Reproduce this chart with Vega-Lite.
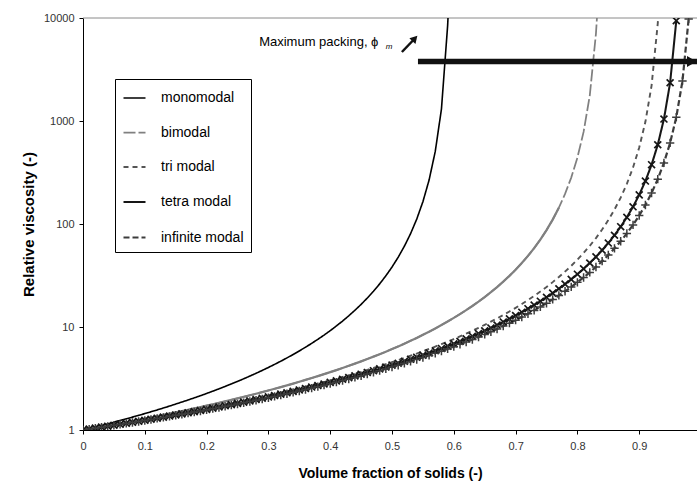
{
"$schema": "https://vega.github.io/schema/vega-lite/v6.json",
"width": 614, "height": 412,
"autosize": {"type": "none"},
"padding": {"left": 83, "top": 18, "right": 0, "bottom": 52},
"background": "white",
"config": {"view": {"stroke": null}, "font": "Liberation Sans"},
"datasets": {
"curves": [
{"phi":0,"monomodal":1,"bimodal":1,"tri modal":1,"tetra modal":1,"infinite modal":1},
{"phi":0.01,"monomodal":1.034,"bimodal":1.024,"tri modal":1.022,"tetra modal":1.021,"infinite modal":1.021},
{"phi":0.02,"monomodal":1.071,"bimodal":1.049,"tri modal":1.044,"tetra modal":1.043,"infinite modal":1.042},
{"phi":0.03,"monomodal":1.109,"bimodal":1.075,"tri modal":1.067,"tetra modal":1.065,"infinite modal":1.064},
{"phi":0.04,"monomodal":1.149,"bimodal":1.103,"tri modal":1.091,"tetra modal":1.088,"infinite modal":1.086},
{"phi":0.05,"monomodal":1.191,"bimodal":1.131,"tri modal":1.116,"tetra modal":1.112,"infinite modal":1.109},
{"phi":0.06,"monomodal":1.236,"bimodal":1.160,"tri modal":1.141,"tetra modal":1.136,"infinite modal":1.133},
{"phi":0.07,"monomodal":1.284,"bimodal":1.190,"tri modal":1.167,"tetra modal":1.162,"infinite modal":1.158},
{"phi":0.08,"monomodal":1.334,"bimodal":1.222,"tri modal":1.195,"tetra modal":1.188,"infinite modal":1.184},
{"phi":0.09,"monomodal":1.387,"bimodal":1.254,"tri modal":1.223,"tetra modal":1.215,"infinite modal":1.21},
{"phi":0.10,"monomodal":1.443,"bimodal":1.289,"tri modal":1.252,"tetra modal":1.243,"infinite modal":1.237},
{"phi":0.11,"monomodal":1.503,"bimodal":1.324,"tri modal":1.283,"tetra modal":1.272,"infinite modal":1.266},
{"phi":0.12,"monomodal":1.567,"bimodal":1.361,"tri modal":1.314,"tetra modal":1.302,"infinite modal":1.295},
{"phi":0.13,"monomodal":1.635,"bimodal":1.400,"tri modal":1.347,"tetra modal":1.334,"infinite modal":1.325},
{"phi":0.14,"monomodal":1.707,"bimodal":1.44,"tri modal":1.381,"tetra modal":1.366,"infinite modal":1.357},
{"phi":0.15,"monomodal":1.785,"bimodal":1.482,"tri modal":1.416,"tetra modal":1.399,"infinite modal":1.389},
{"phi":0.16,"monomodal":1.868,"bimodal":1.526,"tri modal":1.452,"tetra modal":1.434,"infinite modal":1.423},
{"phi":0.17,"monomodal":1.956,"bimodal":1.572,"tri modal":1.490,"tetra modal":1.470,"infinite modal":1.458},
{"phi":0.18,"monomodal":2.051,"bimodal":1.620,"tri modal":1.530,"tetra modal":1.508,"infinite modal":1.494},
{"phi":0.19,"monomodal":2.153,"bimodal":1.670,"tri modal":1.571,"tetra modal":1.547,"infinite modal":1.531},
{"phi":0.20,"monomodal":2.263,"bimodal":1.723,"tri modal":1.614,"tetra modal":1.587,"infinite modal":1.570},
{"phi":0.21,"monomodal":2.382,"bimodal":1.778,"tri modal":1.658,"tetra modal":1.629,"infinite modal":1.611},
{"phi":0.22,"monomodal":2.510,"bimodal":1.836,"tri modal":1.705,"tetra modal":1.673,"infinite modal":1.653},
{"phi":0.23,"monomodal":2.649,"bimodal":1.896,"tri modal":1.753,"tetra modal":1.718,"infinite modal":1.697},
{"phi":0.24,"monomodal":2.800,"bimodal":1.96,"tri modal":1.803,"tetra modal":1.766,"infinite modal":1.742},
{"phi":0.25,"monomodal":2.964,"bimodal":2.027,"tri modal":1.856,"tetra modal":1.815,"infinite modal":1.790},
{"phi":0.26,"monomodal":3.142,"bimodal":2.098,"tri modal":1.911,"tetra modal":1.867,"infinite modal":1.839},
{"phi":0.27,"monomodal":3.338,"bimodal":2.172,"tri modal":1.968,"tetra modal":1.920,"infinite modal":1.891},
{"phi":0.28,"monomodal":3.552,"bimodal":2.25,"tri modal":2.029,"tetra modal":1.976,"infinite modal":1.944},
{"phi":0.29,"monomodal":3.788,"bimodal":2.333,"tri modal":2.091,"tetra modal":2.035,"infinite modal":2.000},
{"phi":0.30,"monomodal":4.047,"bimodal":2.420,"tri modal":2.157,"tetra modal":2.096,"infinite modal":2.059},
{"phi":0.31,"monomodal":4.335,"bimodal":2.512,"tri modal":2.226,"tetra modal":2.160,"infinite modal":2.120},
{"phi":0.32,"monomodal":4.654,"bimodal":2.610,"tri modal":2.299,"tetra modal":2.227,"infinite modal":2.183},
{"phi":0.33,"monomodal":5.010,"bimodal":2.713,"tri modal":2.375,"tetra modal":2.297,"infinite modal":2.25},
{"phi":0.34,"monomodal":5.408,"bimodal":2.822,"tri modal":2.454,"tetra modal":2.371,"infinite modal":2.320},
{"phi":0.35,"monomodal":5.856,"bimodal":2.939,"tri modal":2.538,"tetra modal":2.448,"infinite modal":2.393},
{"phi":0.36,"monomodal":6.362,"bimodal":3.063,"tri modal":2.627,"tetra modal":2.529,"infinite modal":2.469},
{"phi":0.37,"monomodal":6.936,"bimodal":3.194,"tri modal":2.720,"tetra modal":2.614,"infinite modal":2.550},
{"phi":0.38,"monomodal":7.591,"bimodal":3.335,"tri modal":2.818,"tetra modal":2.703,"infinite modal":2.634},
{"phi":0.39,"monomodal":8.344,"bimodal":3.484,"tri modal":2.921,"tetra modal":2.797,"infinite modal":2.723},
{"phi":0.40,"monomodal":9.215,"bimodal":3.645,"tri modal":3.030,"tetra modal":2.896,"infinite modal":2.816},
{"phi":0.41,"monomodal":10.23,"bimodal":3.816,"tri modal":3.146,"tetra modal":3.000,"infinite modal":2.914},
{"phi":0.42,"monomodal":11.42,"bimodal":4,"tri modal":3.268,"tetra modal":3.110,"infinite modal":3.017},
{"phi":0.43,"monomodal":12.84,"bimodal":4.198,"tri modal":3.397,"tetra modal":3.227,"infinite modal":3.125},
{"phi":0.44,"monomodal":14.53,"bimodal":4.41,"tri modal":3.534,"tetra modal":3.350,"infinite modal":3.24},
{"phi":0.45,"monomodal":16.58,"bimodal":4.639,"tri modal":3.680,"tetra modal":3.480,"infinite modal":3.361},
{"phi":0.46,"monomodal":19.10,"bimodal":4.886,"tri modal":3.835,"tetra modal":3.618,"infinite modal":3.489},
{"phi":0.47,"monomodal":22.24,"bimodal":5.154,"tri modal":4,"tetra modal":3.764,"infinite modal":3.625},
{"phi":0.48,"monomodal":26.22,"bimodal":5.444,"tri modal":4.176,"tetra modal":3.919,"infinite modal":3.768},
{"phi":0.49,"monomodal":31.37,"bimodal":5.76,"tri modal":4.364,"tetra modal":4.084,"infinite modal":3.920},
{"phi":0.50,"monomodal":38.21,"bimodal":6.104,"tri modal":4.564,"tetra modal":4.259,"infinite modal":4.082},
{"phi":0.51,"monomodal":47.55,"bimodal":6.479,"tri modal":4.779,"tetra modal":4.447,"infinite modal":4.254},
{"phi":0.52,"monomodal":60.80,"bimodal":6.891,"tri modal":5.009,"tetra modal":4.646,"infinite modal":4.437},
{"phi":0.53,"monomodal":80.46,"bimodal":7.342,"tri modal":5.256,"tetra modal":4.860,"infinite modal":4.632},
{"phi":0.54,"monomodal":111.5,"bimodal":7.84,"tri modal":5.523,"tetra modal":5.089,"infinite modal":4.84},
{"phi":0.55,"monomodal":164.6,"bimodal":8.390,"tri modal":5.809,"tetra modal":5.334,"infinite modal":5.063},
{"phi":0.56,"monomodal":267.1,"bimodal":9,"tri modal":6.119,"tetra modal":5.597,"infinite modal":5.301},
{"phi":0.57,"monomodal":506.7,"bimodal":9.679,"tri modal":6.454,"tetra modal":5.881,"infinite modal":5.556},
{"phi":0.58,"monomodal":1307,"bimodal":10.44,"tri modal":6.818,"tetra modal":6.186,"infinite modal":5.831},
{"phi":0.59,"monomodal":8422,"bimodal":11.29,"tri modal":7.213,"tetra modal":6.516,"infinite modal":6.126},
{"phi":0.5906,"monomodal":10000},
{"phi":0.60,"bimodal":12.25,"tri modal":7.644,"tetra modal":6.873,"infinite modal":6.444},
{"phi":0.61,"bimodal":13.34,"tri modal":8.114,"tetra modal":7.260,"infinite modal":6.787},
{"phi":0.62,"bimodal":14.58,"tri modal":8.629,"tetra modal":7.681,"infinite modal":7.159},
{"phi":0.63,"bimodal":16,"tri modal":9.195,"tetra modal":8.139,"infinite modal":7.563},
{"phi":0.64,"bimodal":17.64,"tri modal":9.818,"tetra modal":8.640,"infinite modal":8.001},
{"phi":0.65,"bimodal":19.55,"tri modal":10.51,"tetra modal":9.189,"infinite modal":8.478},
{"phi":0.66,"bimodal":21.78,"tri modal":11.27,"tetra modal":9.791,"infinite modal":9},
{"phi":0.67,"bimodal":24.42,"tri modal":12.12,"tetra modal":10.45,"infinite modal":9.571},
{"phi":0.68,"bimodal":27.56,"tri modal":13.07,"tetra modal":11.19,"infinite modal":10.20},
{"phi":0.69,"bimodal":31.36,"tri modal":14.14,"tetra modal":12.00,"infinite modal":10.89},
{"phi":0.70,"bimodal":36,"tri modal":15.34,"tetra modal":12.91,"infinite modal":11.65},
{"phi":0.71,"bimodal":41.75,"tri modal":16.70,"tetra modal":13.92,"infinite modal":12.50},
{"phi":0.72,"bimodal":49,"tri modal":18.26,"tetra modal":15.05,"infinite modal":13.44},
{"phi":0.73,"bimodal":58.31,"tri modal":20.04,"tetra modal":16.34,"infinite modal":14.50},
{"phi":0.74,"bimodal":70.56,"tri modal":22.09,"tetra modal":17.79,"infinite modal":15.68},
{"phi":0.75,"bimodal":87.11,"tri modal":24.48,"tetra modal":19.44,"infinite modal":17.02},
{"phi":0.76,"bimodal":110.3,"tri modal":27.27,"tetra modal":21.34,"infinite modal":18.53},
{"phi":0.77,"bimodal":144,"tri modal":30.57,"tetra modal":23.52,"infinite modal":20.25},
{"phi":0.78,"bimodal":196,"tri modal":34.52,"tetra modal":26.06,"infinite modal":22.22},
{"phi":0.79,"bimodal":282.2,"tri modal":39.27,"tetra modal":29.04,"infinite modal":24.50},
{"phi":0.80,"bimodal":441,"tri modal":45.08,"tetra modal":32.56,"infinite modal":27.15},
{"phi":0.81,"bimodal":784,"tri modal":52.28,"tetra modal":36.75,"infinite modal":30.25},
{"phi":0.82,"bimodal":1764,"tri modal":61.36,"tetra modal":41.82,"infinite modal":33.91},
{"phi":0.83,"bimodal":7056,"tri modal":73.03,"tetra modal":48.01,"infinite modal":38.29},
{"phi":0.8316,"bimodal":10000},
{"phi":0.84,"tri modal":88.36,"tetra modal":55.68,"infinite modal":43.56},
{"phi":0.85,"tri modal":109.1,"tetra modal":65.34,"infinite modal":50.01},
{"phi":0.86,"tri modal":138.1,"tetra modal":77.76,"infinite modal":57.99},
{"phi":0.87,"tri modal":180.3,"tetra modal":94.09,"infinite modal":68.06},
{"phi":0.88,"tri modal":245.4,"tetra modal":116.2,"infinite modal":81},
{"phi":0.89,"tri modal":353.4,"tetra modal":147.0,"infinite modal":98.01},
{"phi":0.90,"tri modal":552.3,"tetra modal":192.0,"infinite modal":121},
{"phi":0.91,"tri modal":981.8,"tetra modal":261.4,"infinite modal":153.1},
{"phi":0.92,"tri modal":2209,"tetra modal":376.4,"infinite modal":200.0},
{"phi":0.93,"tri modal":8836,"tetra modal":588.1,"infinite modal":272.3},
{"phi":0.9306,"tri modal":10000},
{"phi":0.94,"tetra modal":1045,"infinite modal":392.0},
{"phi":0.95,"tetra modal":2352,"infinite modal":612.6},
{"phi":0.96,"tetra modal":9409,"infinite modal":1089},
{"phi":0.97,"infinite modal":2450},
{"phi":0.98,"infinite modal":9801}
]
},
"encoding": {
 "x": {"field": "phi", "type": "quantitative",
  "scale": {"domain": [0, 0.9935], "nice": false, "zero": false},
  "axis": {"values": [0,0.1,0.2,0.3,0.4,0.5,0.6,0.7,0.8,0.9], "format": "~g", "grid": false,
   "title": "Volume fraction of solids (-)", "titleFont": "Liberation Sans", "titleFontSize": 14, "titleFontWeight": "bold", "titleColor": "#000", "titlePadding": 15,
   "labelFont": "Liberation Sans", "labelFontSize": 11, "labelColor": "#333", "labelPadding": 6, "tickSize": 4, "tickColor": "#000", "domainColor": "#000", "labelFlush": false}},
 "y": {"field": "eta", "type": "quantitative",
  "scale": {"type": "log", "domain": [1, 10000], "nice": false},
  "axis": {"values": [1,10,100,1000,10000], "format": "d", "grid": false,
   "title": "Relative viscosity (-)", "titleFont": "Liberation Sans", "titleFontSize": 15, "titleFontWeight": "bold", "titleColor": "#000", "titlePadding": 7,
   "labelFont": "Liberation Sans", "labelFontSize": 11, "labelColor": "#333", "labelPadding": 5, "tickSize": 4, "tickColor": "#000", "domainColor": "#000", "labelFlush": false}}
},
"layer": [
 {"data": {"values": [{"phi": 0, "phi2": 0.9935, "eta": 10000}]},
  "mark": {"type": "rule", "color": "#8a8a8a", "strokeWidth": 1},
  "encoding": {"x2": {"field": "phi2"}}},
 {"data": {"name": "curves"},
  "transform": [{"fold": ["monomodal","bimodal","tri modal","tetra modal","infinite modal"], "as": ["series","eta"]}, {"filter": "isValid(datum.eta)"}],
  "mark": {"type": "line", "clip": true},
  "encoding": {
   "color": {"field": "series", "type": "nominal",
    "scale": {"domain": ["monomodal","bimodal","tri modal","tetra modal","infinite modal"], "range": ["#000000","#808080","#555555","#161616","#3c3c3c"]},
    "legend": {"title": null, "orient": "none", "legendX": 32, "legendY": 61, "strokeColor": "#000", "fillColor": "#fff", "padding": 7,
     "symbolType": "stroke", "symbolSize": 484, "labelFont": "Liberation Sans", "labelFontSize": 14, "labelColor": "#000", "labelOffset": 14, "rowPadding": 15.5}},
   "strokeDash": {"field": "series", "type": "nominal",
    "scale": {"domain": ["monomodal","bimodal","tri modal","tetra modal","infinite modal"], "range": [[1,0],[12,3],[5,4],[1,0],[6,3]]}},
   "strokeWidth": {"field": "series", "type": "ordinal",
    "scale": {"domain": ["monomodal","bimodal","tri modal","tetra modal","infinite modal"], "range": [1.6, 2.2, 2.8, 2.6, 1.6]}}
  }},
 {"data": {"name": "curves"},
  "transform": [{"fold": ["bimodal"], "as": ["series","eta"]}, {"filter": "isValid(datum.eta) && datum.phi <= 0.77"}],
  "mark": {"type": "line", "color": "#808080", "strokeWidth": 2.2, "clip": true}},
 {"data": {"name": "curves"},
  "transform": [{"fold": ["tetra modal"], "as": ["series","eta"]}, {"filter": "isValid(datum.eta)"}],
  "mark": {"type": "point", "shape": "M-1,-1L1,1M-1,1L1,-1", "filled": false, "size": 48, "strokeWidth": 1.7, "color": "#161616", "opacity": 1, "clip": true}},
 {"data": {"name": "curves"},
  "transform": [{"fold": ["infinite modal"], "as": ["series","eta"]}, {"filter": "isValid(datum.eta)"}],
  "mark": {"type": "point", "shape": "M-1,0L1,0M0,-1L0,1", "filled": false, "size": 70, "strokeWidth": 1.5, "color": "#3c3c3c", "opacity": 1, "clip": true}},
 {"data": {"values": [{"phi": 0.542, "phi2": 0.9935, "eta": 3784}]},
  "mark": {"type": "rule", "color": "#111", "strokeWidth": 5.5},
  "encoding": {"x2": {"field": "phi2"}}},
 {"data": {"values": [{"phi": 0.985, "eta": 3784}]},
  "mark": {"type": "point", "shape": "triangle-right", "filled": true, "size": 120, "color": "#111", "opacity": 1}},
 {"data": {"values": [{"phi": 0.516, "eta": 4677, "phi2": 0.535, "eta2": 6150}]},
  "mark": {"type": "rule", "color": "#111", "strokeWidth": 2.5},
  "encoding": {"x2": {"field": "phi2"}, "y2": {"field": "eta2"}}},
 {"data": {"values": [{"phi": 0.537, "eta": 6324}]},
  "mark": {"type": "point", "shape": "triangle-up", "angle": 43, "filled": true, "size": 70, "color": "#111", "opacity": 1}},
 {"data": {"values": [{"phi": 0.285, "eta": 5850, "label": "Maximum packing, ϕ"}]},
  "mark": {"type": "text", "align": "left", "baseline": "middle", "font": "Liberation Sans", "fontSize": 13, "color": "#000"},
  "encoding": {"text": {"field": "label"}}},
 {"data": {"values": [{"phi": 0.49, "eta": 5230, "label": "m"}]},
  "mark": {"type": "text", "align": "left", "baseline": "middle", "font": "Liberation Sans", "fontSize": 8, "fontStyle": "italic", "color": "#000"},
  "encoding": {"text": {"field": "label"}}}
]
}
